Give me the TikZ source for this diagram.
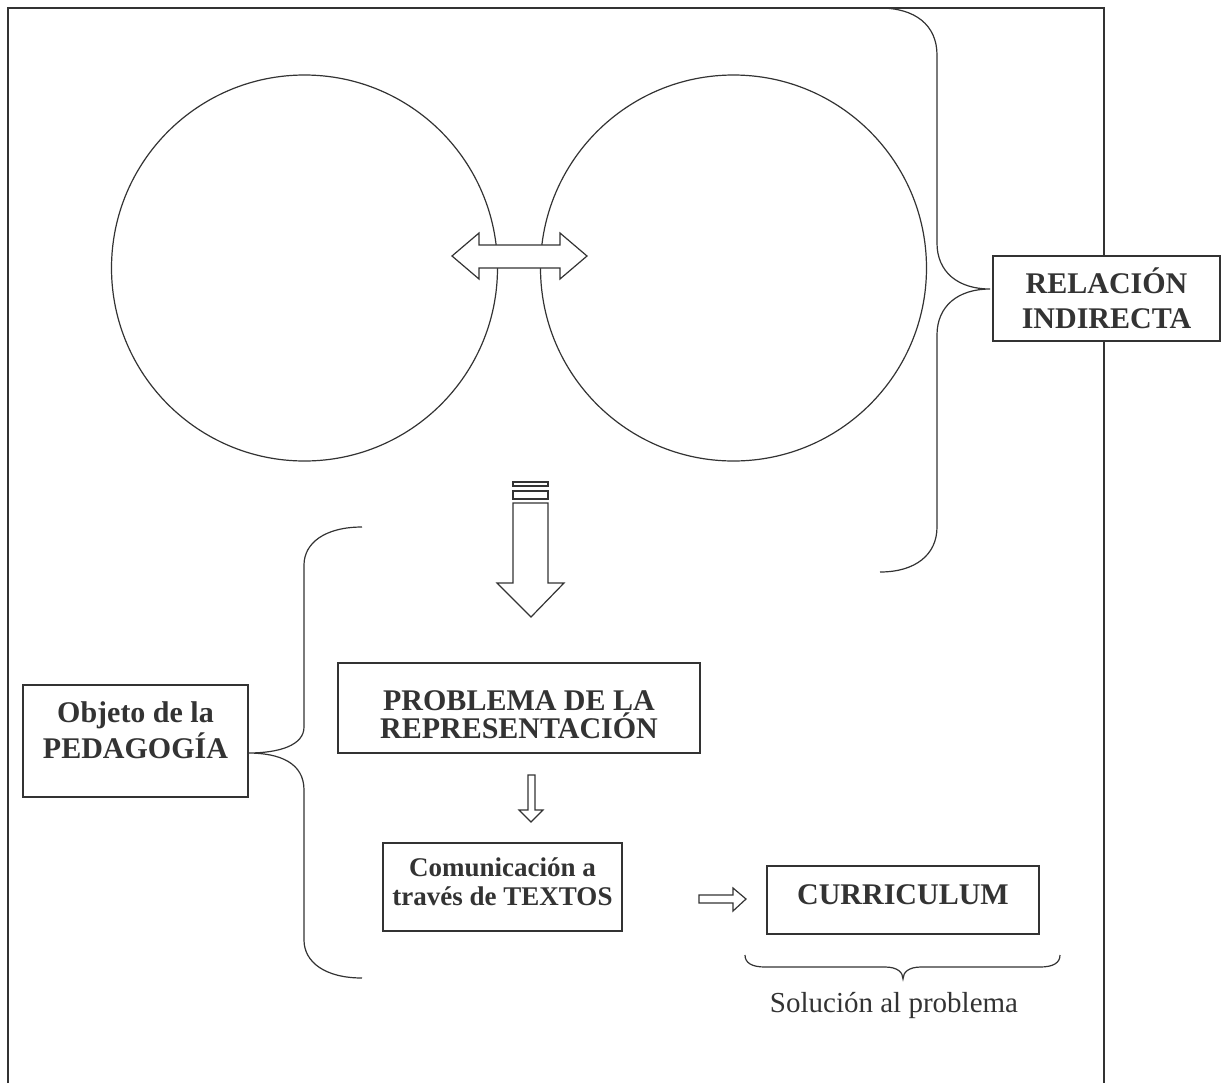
\documentclass[tikz,border=0pt]{standalone}
\usepackage{fontspec}
\setmainfont{Liberation Serif}
\tikzset{
  marco/.style={draw=black!80,line width=1.1pt},
  linea/.style={draw=black!80,line width=0.6pt},
  flecha/.style={draw=black!80,line width=0.6pt,fill=white,line join=miter},
  caja/.style={draw=black!80,line width=0.6pt,fill=white,inner sep=0pt},
  cajagruesa/.style={caja,line width=1.2pt},
  texto/.style={align=center,text=black!80,inner sep=0pt,
                font=\bfseries\fontsize{15}{18}\selectfont},
}

\begin{document}
\begin{tikzpicture}[x=0.5pt,y=-0.5pt]
  \useasboundingbox (0,0) rectangle (1222,1083);

  % ---------- MARCO ----------
  \draw[marco] (8,1083) -- (8,8) -- (1104,8) -- (1104,1083);

  % ---------- CIRCULOS ----------
  \node[circle,linea,minimum size=193pt,inner sep=0pt] (izq) at (304.5,268) {};
  \node[circle,linea,minimum size=193pt,inner sep=0pt] (der) at (733.5,268) {};

  % ---------- FLECHAS ----------
  % doble flecha entre los circulos
  \draw[flecha] (452,256) -- (479,233) -- (479,245) -- (560,245) -- (560,233)
       -- (587,256) -- (560,279) -- (560,268) -- (479,268) -- (479,279) -- cycle;
  % flecha grande con franjas
  \draw[flecha] (513,482) rectangle (548,486);
  \draw[flecha] (513,491) rectangle (548,499);
  \draw[flecha] (513,503) -- (548,503) -- (548,583) -- (564,583) -- (531,617)
       -- (497,583) -- (513,583) -- cycle;
  % flechas chicas
  \draw[flecha] (528,775) -- (535,775) -- (535,810) -- (543,810) -- (531,822)
       -- (519,810) -- (528,810) -- cycle;
  \draw[flecha] (699,895) -- (733,895) -- (733,888) -- (746,899) -- (733,911)
       -- (733,903) -- (699,903) -- cycle;

  % ---------- LLAVES ----------
  \coordinate (puntaD) at (990,289);
  \coordinate (puntaI) at (248,753);
  \draw[linea] (880,8) .. controls (915,8) and (937,25) .. (937,55) -- (937,243)
       .. controls (937,272) and (958,289) .. (puntaD)
       .. controls (958,289) and (937,306) .. (937,335) -- (937,527)
       .. controls (937,555) and (915,572) .. (880,572);
  \draw[linea] (362,527) .. controls (325,527) and (304,543) .. (304,565) -- (304,727)
       .. controls (304,745) and (280,753) .. (puntaI)
       .. controls (280,753) and (304,763) .. (304,790) -- (304,940)
       .. controls (304,962) and (325,978) .. (362,978);
  \draw[linea] (745,955) .. controls (745,963) and (752,967) .. (765,967) -- (885,967)
       .. controls (897,967) and (903,972) .. (903,979)
       .. controls (903,972) and (909,967) .. (921,967) -- (1040,967)
       .. controls (1053,967) and (1060,963) .. (1060,955);

  % ---------- CAJAS ----------
  \node[cajagruesa,minimum width=113.5pt,minimum height=42.5pt] (relacion) at (1106.5,298.5) {};
  \node[texto,font=\bfseries\fontsize{15}{17.5}\selectfont] (relaciontxt) at (1106.5,298.5) {RELACIÓN\\INDIRECTA};

  \node[cajagruesa,minimum width=112.5pt,minimum height=56pt] (objeto) at (135.5,741) {};
  \node[texto] (objetotxt) at (135.5,730) {Objeto de la\\PEDAGOGÍA};

  \node[caja,minimum width=181pt,minimum height=45pt] (problema) at (519,708) {};
  \node[texto,font=\bfseries\fontsize{15}{12.8}\selectfont] (problematxt) at (519,714.5) {PROBLEMA DE LA\\REPRESENTACIÓN};

  \node[caja,minimum width=119.5pt,minimum height=44pt] (comunicacion) at (502.5,887) {};
  \node[texto,font=\bfseries\fontsize{13.5}{14.5}\selectfont] (comunicaciontxt) at (502.5,881.5) {Comunicación a\\través de TEXTOS};

  \node[caja,minimum width=136pt,minimum height=34pt] (curriculum) at (903,900) {};
  \node[texto] (curriculumtxt) at (903,895) {CURRICULUM};

  % ---------- SOLUCION ----------
  \node[text=black!80,inner sep=0pt,font=\fontsize{14.5}{17}\selectfont] (solucion) at (894,1005) {Solución al problema};

\end{tikzpicture}
\end{document}
